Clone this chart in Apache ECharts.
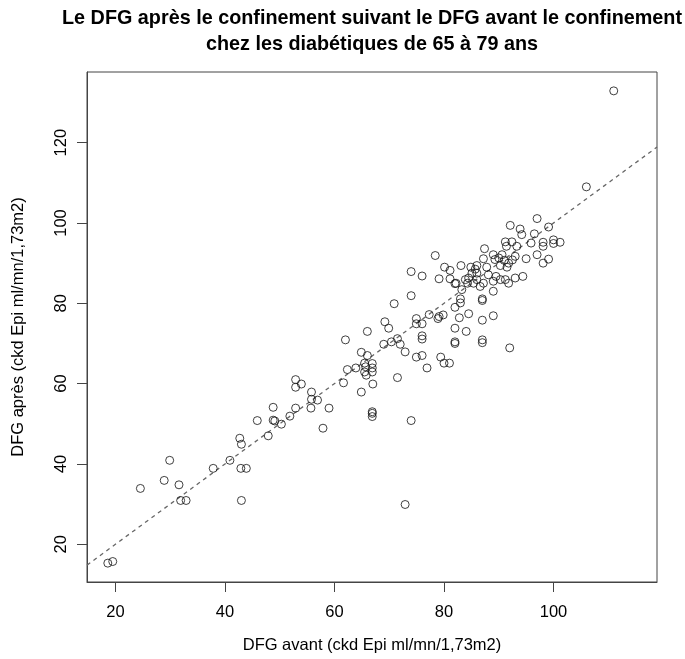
<!DOCTYPE html>
<html><head><meta charset="utf-8">
<script src="https://cdn.jsdelivr.net/npm/echarts@6/dist/echarts.min.js"></script>
<style>html,body{margin:0;padding:0;background:#fff}#c{width:685px;height:659px}</style>
</head><body><div id="c"></div>
<script>
const titleText = 'Le DFG après le confinement suivant le DFG avant le confinement\nchez les diabétiques de 65 à 79 ans';
const xName = 'DFG avant (ckd Epi ml/mn/1,73m2)';
const yName = 'DFG après (ckd Epi ml/mn/1,73m2)';
const xTicks = [20, 40, 60, 80, 100];
const yTicks = [20, 40, 60, 80, 100, 120];
const xLimits = [14.8, 118.9];
const yLimits = [10.6, 137.6];
const refIntercept = 0;
const refSlope = 1;

const dfgAvant = [
  18.6, 19.5, 24.55, 28.9, 29.9, 31.6, 31.9, 32.9, 37.85, 40.9,
  42.7, 43.0, 42.9, 43.9, 43.0, 45.9, 47.9, 48.8, 48.8, 49.1,
  50.3, 51.85, 52.9, 52.9, 53.95, 52.9, 55.8, 55.8, 56.9, 55.7,
  59.0, 57.9, 61.65, 62.0, 62.35, 63.9, 64.9, 66.0, 64.9, 65.5,
  65.7, 65.5, 65.8, 66.9, 66.9, 66.9, 67.0, 66.9, 66.9, 66.9,
  66.0, 69.2, 69.9, 70.9, 69.0, 70.4, 71.5, 72.0, 72.9, 71.5,
  74.0, 72.9, 74.0, 74.0, 74.95, 74.95, 76.0, 76.0, 76.0, 76.0,
  74.95, 76.0, 76.9, 77.3, 78.9, 79.1, 79.85, 79.4, 80.0, 81.0,
  82.0, 82.0, 82.0, 82.0, 82.8, 83.0, 83.0, 84.5, 84.05, 87.0,
  87.0, 87.0, 87.0, 87.0, 89.0, 92.0, 106.0, 111.0,
  78.4, 79.1, 80.1, 81.1, 81.1, 82.2, 82.0, 83.1, 83.25,
  84.9, 85.7, 86.0, 87.8, 88.1, 86.0, 85.1, 84.5, 83.9, 84.3,
  85.4, 86.0, 86.6, 87.2, 89.0, 89.5, 90.3, 91.2, 91.8, 89.0,
  87.4, 89.0, 87.2, 89.3, 90.0, 90.6, 90.3, 91.0, 91.8, 91.5,
  93.0, 94.4, 92.5, 93.0,
  92.1, 93.9, 94.2, 97.0, 96.5, 99.1, 91.2, 92.4, 93.3, 91.4,
  95.9, 98.1, 98.1, 100.0, 101.2, 100.0, 95.0, 97.0, 98.1, 99.1
];
const dfgApres = [
  15.3, 15.7, 33.9, 35.9, 40.9, 34.8, 30.9, 30.9, 38.9, 40.9,
  46.4, 44.9, 38.9, 38.9, 30.9, 50.8, 47.0, 54.1, 50.9, 50.7,
  49.9, 51.9, 61.0, 59.1, 59.9, 53.9, 57.9, 56.1, 55.9, 53.9,
  53.9, 48.9, 60.2, 70.9, 63.5, 63.9, 67.8, 67.0, 57.9, 65.1,
  64.2, 62.9, 62.1, 65.0, 63.9, 62.9, 59.9, 53.0, 52.6, 51.8,
  73.0, 75.4, 73.8, 79.9, 69.8, 70.4, 71.2, 69.8, 67.9, 61.5,
  50.8, 29.9, 87.9, 81.9, 76.2, 74.9, 74.9, 71.9, 71.1, 86.8,
  66.6, 67.0, 63.9, 77.2, 76.2, 76.7, 77.1, 66.6, 65.1, 65.1,
  79.0, 73.8, 70.4, 70.0, 76.4, 80.1, 81.1, 77.4, 73.0, 81.1,
  80.7, 75.8, 70.9, 70.2, 76.9, 68.9, 109.0, 132.9,
  91.9, 86.1, 89.0, 88.2, 86.1, 85.0, 84.9, 89.4, 83.4,
  89.0, 88.5, 89.4, 89.0, 87.1, 87.5, 87.5, 86.3, 85.9, 85.0,
  85.0, 85.9, 84.2, 85.0, 85.5, 86.7, 85.9, 85.9, 85.0, 83.0,
  93.6, 92.1, 91.1, 90.9, 91.3, 92.1, 89.4, 90.7, 90.0, 89.0,
  86.3, 86.7, 90.8, 91.7,
  99.4, 98.5, 97.1, 101.1, 97.3, 99.0, 95.3, 95.3, 94.2, 94.2,
  95.0, 95.2, 94.2, 95.8, 95.2, 94.9, 91.1, 92.1, 90.0, 91.0
];

const points = dfgAvant.map((x, i) => [x, dfgApres[i]]);
const refLine = xLimits.map(x => [x, refIntercept + refSlope * x]);

const FONT = "'Liberation Sans', Arial, Helvetica, sans-serif";
const chart = echarts.init(document.getElementById('c'), null, {renderer: 'canvas'});
chart.setOption({
  animation: false,
  backgroundColor: '#fff',
  title: {
    text: titleText,
    left: 367, top: 1, textAlign: 'center',
    textStyle: {fontFamily: FONT, fontSize: 19.8, fontWeight: 'bold', color: '#000', lineHeight: 26}
  },
  grid: {left: 87, top: 72, width: 570, height: 510, show: true, borderColor: '#444', borderWidth: 1, backgroundColor: 'transparent'},
  xAxis: {
    type: 'value', min: xLimits[0], max: xLimits[1],
    name: xName, nameLocation: 'middle', nameGap: 55,
    nameTextStyle: {fontFamily: FONT, fontSize: 16.5, color: '#000'},
    axisLine: {show: true, onZero: false, lineStyle: {color: '#444'}},
    axisTick: {show: true, length: 10, lineStyle: {color: '#444'}, customValues: xTicks},
    axisLabel: {fontFamily: FONT, fontSize: 16.5, color: '#000', margin: 22, customValues: xTicks},
    splitLine: {show: false}
  },
  yAxis: {
    type: 'value', min: yLimits[0], max: yLimits[1],
    name: yName, nameLocation: 'middle', nameGap: 60,
    nameTextStyle: {fontFamily: FONT, fontSize: 16.5, color: '#000'},
    axisLine: {show: true, onZero: false, lineStyle: {color: '#444'}},
    axisTick: {show: true, length: 10, lineStyle: {color: '#444'}, customValues: yTicks},
    axisLabel: {fontFamily: FONT, fontSize: 16.5, color: '#000', margin: 17, rotate: 90, customValues: yTicks},
    splitLine: {show: false}
  },
  series: [
    {
      type: 'line', data: refLine, symbol: 'none', silent: true, z: 1,
      lineStyle: {color: '#666', width: 1.3, type: [4, 4]}
    },
    {
      type: 'scatter', data: points, symbol: 'circle', symbolSize: 8, z: 2,
      itemStyle: {color: 'rgba(0,0,0,0)', borderColor: '#111', borderWidth: 1}
    }
  ]
});
</script>
</body></html>
